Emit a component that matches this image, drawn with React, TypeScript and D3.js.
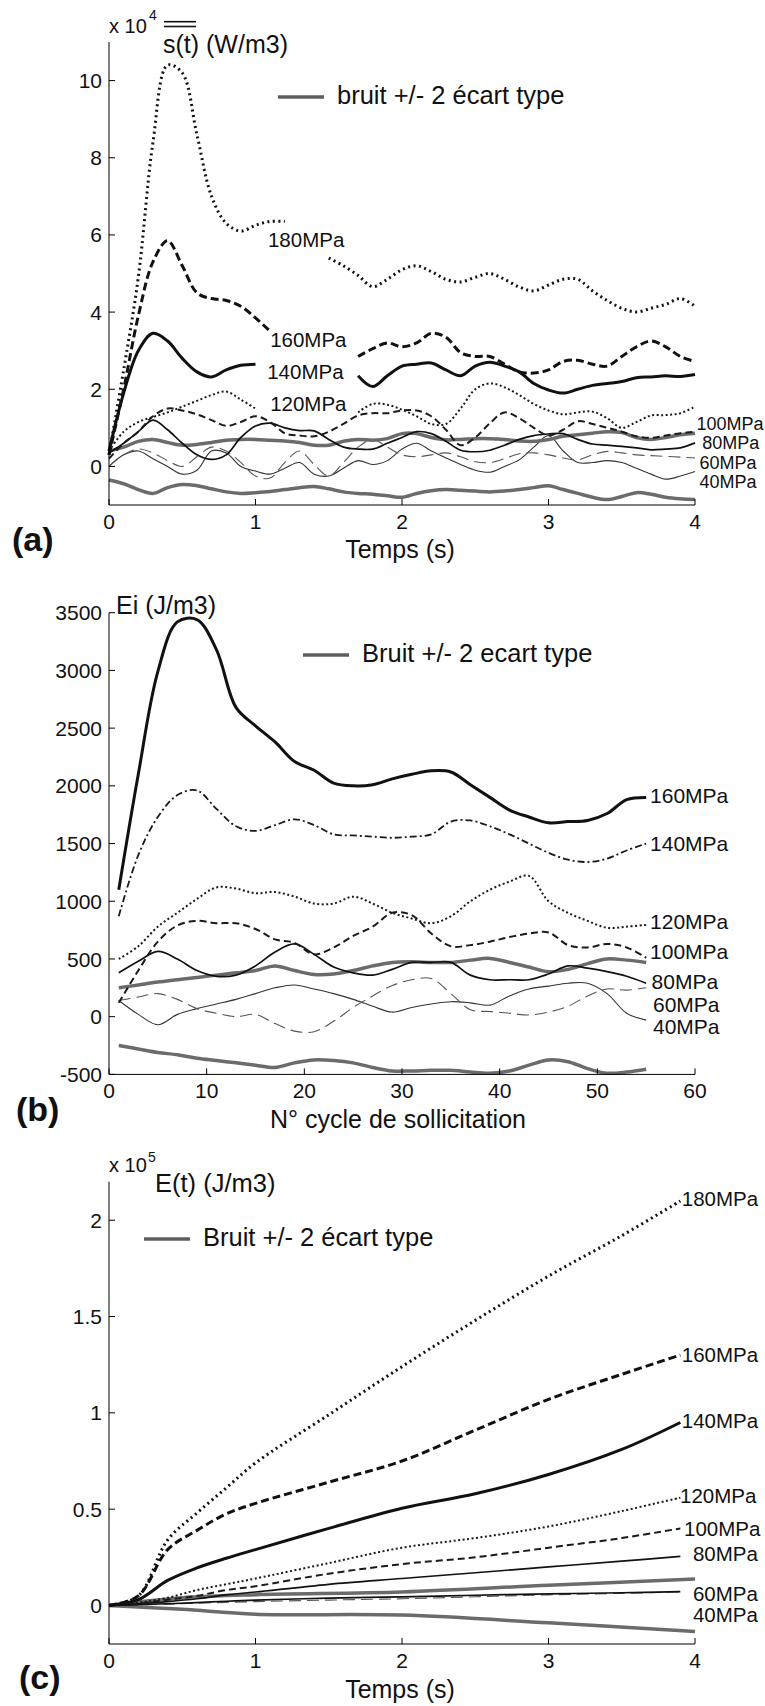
import React from 'react';
import * as d3 from 'd3';

const FONT = "'Liberation Sans', Arial, Helvetica, sans-serif";
const X0 = 109;
const X1 = 695;

// ---- (a) s(t), x 1e4 W/m3 ----
const tA = [0, 0.1, 0.2, 0.3, 0.4, 0.5, 0.6, 0.7, 0.8, 0.9, 1, 1.1, 1.2, 1.3, 1.4, 1.5, 1.6, 1.7, 1.8, 1.9, 2,
  2.1, 2.2, 2.3, 2.4, 2.5, 2.6, 2.7, 2.8, 2.9, 3, 3.1, 3.2, 3.3, 3.4, 3.5, 3.6, 3.7, 3.8, 3.9, 4];
const a180 = [0.3, 2.5, 4.9, 8.4, 10.4, 10.2, 8.6, 7.0, 6.3, 6.1, 6.25, 6.35, 6.35, NaN, NaN, 5.4, 5.2, 4.95, 4.66, 4.85,
  5.1, 5.2, 5.05, 4.85, 4.78, 4.9, 5.0, 4.85, 4.65, 4.55, 4.7, 4.85, 4.85, 4.55, 4.3, 4.1, 4.0, 4.1, 4.2, 4.35, 4.15];
const a160 = [0.3, 2.0, 3.9, 5.3, 5.85, 5.2, 4.5, 4.35, 4.3, 4.15, 3.85, 3.5, NaN, NaN, NaN, NaN, NaN, 2.85, 3.05, 3.2,
  3.1, 3.2, 3.45, 3.35, 2.95, 2.85, 2.85, 2.65, 2.45, 2.42, 2.5, 2.72, 2.75, 2.65, 2.6, 2.85, 3.1, 3.25, 3.1, 2.85, 2.72];
const a140 = [0.4, 1.9, 3.0, 3.45, 3.25, 2.8, 2.45, 2.32, 2.5, 2.62, 2.65, NaN, NaN, NaN, NaN, NaN, NaN, 2.35, 2.07, 2.35,
  2.6, 2.65, 2.68, 2.5, 2.35, 2.6, 2.7, 2.6, 2.45, 2.15, 1.98, 1.9, 2.0, 2.1, 2.15, 2.2, 2.3, 2.32, 2.35, 2.33, 2.38];
const a120 = [0.4, 0.9, 1.15, 1.28, 1.4, 1.55, 1.7, 1.85, 1.94, 1.73, 1.5, NaN, NaN, NaN, NaN, NaN, NaN, 1.4, 1.62, 1.6,
  1.47, 1.3, 1.1, 1.1, 1.5, 2.0, 2.15, 2.05, 1.85, 1.62, 1.45, 1.35, 1.4, 1.42, 1.25, 1.0, 1.15, 1.32, 1.33, 1.38, 1.55];
const a100 = [0.2, 0.6, 0.9, 1.3, 1.5, 1.45, 1.35, 1.2, 1.05, 1.15, 1.3, 1.15, 0.86, 0.8, 0.78, 0.9, 1.1, 1.32, 1.38, 1.38,
  1.45, 1.45, 1.3, 0.95, 0.55, 0.75, 1.12, 1.4, 1.25, 1.0, 0.8, 0.95, 1.17, 1.1, 1.0, 0.9, 0.78, 0.74, 0.8, 0.86, 0.9];
const a80 = [0.35, 0.6, 0.9, 1.2, 0.95, 0.6, 0.3, 0.18, 0.3, 0.75, 1.05, 1.12, 1.0, 0.93, 0.92, 0.7, 0.5, 0.45, 0.45, 0.6,
  0.75, 0.9, 0.85, 0.65, 0.42, 0.38, 0.42, 0.55, 0.7, 0.8, 0.84, 0.85, 0.7, 0.58, 0.55, 0.52, 0.48, 0.43, 0.45, 0.48, 0.61];
const a60 = [0.0, 0.3, 0.45, 0.35, 0.15, 0.0, 0.25, 0.5, 0.4, 0.1, -0.25, -0.3, 0.1, 0.4, 0.05, -0.25, 0.1, 0.5, 0.7, 0.5,
  0.3, 0.25, 0.3, 0.35, 0.25, 0.12, 0.1, 0.2, 0.33, 0.35, 0.3, 0.22, 0.17, 0.3, 0.39, 0.35, 0.3, 0.28, 0.26, 0.24, 0.22];
const a40 = [0.0, 0.3, 0.4, 0.2, 0.0, -0.2, -0.1, 0.4, 0.35, 0.0, -0.12, -0.2, -0.05, 0.1, -0.2, -0.25, -0.05, 0.15, 0.05, 0.15,
  0.45, 0.6, 0.4, 0.22, 0.05, -0.1, -0.15, 0.0, 0.17, 0.5, 0.8, 0.4, 0.1, 0.1, 0.15, 0.1, -0.05, -0.2, -0.33, -0.25, -0.13];
const aNoiseHi = [0.4, 0.5, 0.65, 0.7, 0.62, 0.55, 0.57, 0.62, 0.68, 0.7, 0.7, 0.68, 0.66, 0.62, 0.55, 0.55, 0.65, 0.7, 0.68, 0.72,
  0.85, 0.85, 0.75, 0.69, 0.7, 0.72, 0.72, 0.7, 0.66, 0.65, 0.7, 0.78, 0.82, 0.86, 0.9, 0.88, 0.75, 0.7, 0.75, 0.82, 0.86];
const aNoiseLo = [-0.35, -0.45, -0.6, -0.7, -0.55, -0.47, -0.5, -0.58, -0.66, -0.7, -0.68, -0.65, -0.6, -0.55, -0.52, -0.58, -0.66, -0.7, -0.72, -0.76,
  -0.8, -0.7, -0.63, -0.6, -0.62, -0.64, -0.66, -0.64, -0.6, -0.55, -0.5, -0.6, -0.7, -0.8, -0.86, -0.78, -0.68, -0.72, -0.8, -0.84, -0.86];

// ---- (b) Ei per cycle, J/m3 ----
const cB = [1, 3, 5, 7, 9, 11, 13, 15, 17, 19, 21, 23, 25, 27, 29, 31, 33, 35, 37, 39, 41, 43, 45, 47, 49, 51, 53, 55];
const b160 = [1100, 2100, 2990, 3420, 3440, 3180, 2680, 2520, 2380, 2210, 2135, 2024, 2000, 2010, 2060, 2100, 2130, 2120, 2010, 1900, 1790, 1730, 1680, 1690, 1700, 1760, 1880, 1900];
const b140 = [870, 1400, 1730, 1920, 1960, 1800, 1650, 1610, 1660, 1710, 1660, 1580, 1570, 1560, 1550, 1560, 1580, 1690, 1700, 1650, 1580, 1500, 1420, 1360, 1340, 1370, 1440, 1500];
const b120 = [500, 610, 780, 900, 1020, 1120, 1110, 1070, 1080, 1040, 980, 980, 1040, 980, 900, 850, 810, 870, 1000, 1100, 1170, 1220, 1000, 900, 830, 770, 780, 795];
const b100 = [120, 400, 650, 790, 830, 810, 810, 760, 670, 640, 540, 600, 700, 780, 900, 880, 720, 610, 620, 650, 690, 720, 730, 620, 600, 630, 600, 510];
const b80 = [380, 480, 565, 500, 400, 350, 360, 440, 560, 630, 540, 430, 380, 360, 410, 470, 470, 470, 360, 320, 320, 320, 370, 440, 420, 390, 350, 290];
const b60 = [140, 170, 200, 150, 70, 30, 0, 20, -60, -125, -130, -40, 80, 180, 270, 320, 330, 200, 60, 45, 30, 15, 40, 90, 180, 240, 230, 250];
const b40 = [140, 20, -70, 20, 70, 110, 150, 200, 250, 275, 240, 200, 150, 90, 40, 80, 110, 130, 120, 100, 180, 240, 265, 290, 290, 200, 30, -30];
const bNoiseHi = [250, 275, 300, 320, 340, 360, 380, 400, 440, 400, 365, 370, 400, 440, 470, 475, 470, 470, 490, 505, 470, 430, 390, 410, 460, 500, 490, 470];
const bNoiseLo = [-250, -280, -310, -330, -360, -380, -400, -420, -440, -400, -375, -380, -400, -440, -470, -470, -465, -465, -480, -490, -470, -420, -375, -390, -450, -490, -480, -455];

// ---- (c) E(t), x 1e5 J/m3 ----
const tC = [0, 0.2, 0.4, 0.6, 0.8, 1, 1.5, 2, 2.5, 3, 3.5, 3.9];
const c180 = [0, 0.05, 0.34, 0.48, 0.61, 0.74, 0.99, 1.24, 1.48, 1.71, 1.92, 2.1];
const c160 = [0, 0.05, 0.29, 0.39, 0.475, 0.53, 0.64, 0.75, 0.91, 1.07, 1.2, 1.3];
const c140 = [0, 0.03, 0.13, 0.195, 0.245, 0.29, 0.4, 0.505, 0.58, 0.68, 0.81, 0.95];
const c120 = [0, 0.015, 0.04, 0.08, 0.11, 0.14, 0.22, 0.3, 0.35, 0.41, 0.49, 0.56];
const c100 = [0, 0.01, 0.03, 0.05, 0.08, 0.1, 0.165, 0.215, 0.25, 0.3, 0.35, 0.4];
const c80 = [0, 0.008, 0.02, 0.035, 0.055, 0.07, 0.11, 0.14, 0.17, 0.2, 0.23, 0.255];
const c60 = [0, 0.003, 0.007, 0.012, 0.016, 0.02, 0.028, 0.035, 0.045, 0.055, 0.063, 0.07];
const c40 = [0, 0.004, 0.009, 0.015, 0.022, 0.028, 0.038, 0.045, 0.053, 0.06, 0.066, 0.072];
const tCN = [0, 0.5, 1, 2, 3, 4];
const cNoiseHi = [0, 0.04, 0.056, 0.07, 0.105, 0.138];
const cNoiseLo = [0, -0.02, -0.045, -0.05, -0.09, -0.135];

const ticksT = [0, 1, 2, 3, 4];
const ticksA = [0, 2, 4, 6, 8, 10];
const ticksCycle = [0, 10, 20, 30, 40, 50, 60];
const ticksB = [-500, 0, 500, 1000, 1500, 2000, 2500, 3000, 3500];
const ticksC = [0, 0.5, 1, 1.5, 2];

type Style = { color: string; width: number; dash?: string };
const dotHeavy: Style = { color: '#111', width: 3, dash: '2 3.5' };
const dashHeavy: Style = { color: '#111', width: 3, dash: '8 4' };
const solidHeavy: Style = { color: '#111', width: 3 };
const dotThin: Style = { color: '#1a1a1a', width: 2, dash: '2 2.5' };
const dashThin: Style = { color: '#1a1a1a', width: 2, dash: '7 4' };
const dashDot: Style = { color: '#1a1a1a', width: 1.8, dash: '7 3 2 3' };
const solidThin: Style = { color: '#111', width: 1.7 };
const noise: Style = { color: '#6b6b6b', width: 3.5 };
const dashGray: Style = { color: '#555', width: 1.1, dash: '12 6' };
const solidGray: Style = { color: '#333', width: 1.1 };

type Series = { xs: number[]; ys: number[]; s: Style };
type Label = { text: string; x: number; y: number; size: number };

interface ChartProps {
  top: number;
  bottom: number;
  xDomain: [number, number];
  yDomain: [number, number];
  xTicks: number[];
  yTicks: number[];
  series: Series[];
  labels: Label[];
}

const Chart = ({ top, bottom, xDomain, yDomain, xTicks, yTicks, series, labels }: ChartProps) => {
  const x = d3.scaleLinear().domain(xDomain).range([X0, X1]);
  const y = d3.scaleLinear().domain(yDomain).range([bottom, top]);
  const line = d3.line<[number, number]>()
    .defined(d => !Number.isNaN(d[1]))
    .x(d => x(d[0]))
    .y(d => y(d[1]))
    .curve(d3.curveCatmullRom.alpha(0.5));
  return (
    <g>
      {series.map((sr, i) => (
        <path key={i} d={line(sr.xs.map((t, j) => [t, sr.ys[j]] as [number, number])) || ''}
          fill="none" stroke={sr.s.color} strokeWidth={sr.s.width} strokeDasharray={sr.s.dash}
          strokeLinejoin="round" />
      ))}
      <line x1={X0} x2={X0} y1={top} y2={bottom} stroke="#000" />
      <line x1={X0} x2={X1} y1={bottom} y2={bottom} stroke="#000" />
      {xTicks.map(t => (
        <g key={'x' + t}>
          <line x1={x(t)} x2={x(t)} y1={bottom} y2={bottom - 6} stroke="#000" />
          <text x={x(t)} y={bottom + 24} textAnchor="middle" fontSize={21} fill="#111">{t}</text>
        </g>
      ))}
      {yTicks.map(v => (
        <g key={'y' + v}>
          <line x1={X0} x2={X0 + 6} y1={y(v)} y2={y(v)} stroke="#000" />
          <text x={X0 - 7} y={y(v)} dy="0.36em" textAnchor="end" fontSize={21} fill="#111">{v}</text>
        </g>
      ))}
      {labels.map(l => (
        <text key={l.text} x={x(l.x)} y={y(l.y)} dy="0.36em" fontSize={l.size} fill="#111">{l.text}</text>
      ))}
    </g>
  );
};

const Legend = ({ x, y, text }: { x: number; y: number; text: string }) => (
  <g>
    <line x1={x} x2={x + 46} y1={y} y2={y} stroke="#5e5e5e" strokeWidth={3.5} />
    <text x={x + 59} y={y + 7} fontSize={25.5} fill="#111">{text}</text>
  </g>
);

export default function App() {
  return (
    <svg width={765} height={1706} style={{ position: 'absolute', left: 0, top: 0, background: '#fff' }}
      fontFamily={FONT}>
      {/* (a) */}
      <Chart top={42} bottom={505} xDomain={[0, 4]} yDomain={[-1, 11]} xTicks={ticksT} yTicks={ticksA}
        series={[
          { xs: tA, ys: aNoiseLo, s: noise },
          { xs: tA, ys: a40, s: solidGray },
          { xs: tA, ys: a60, s: dashGray },
          { xs: tA, ys: aNoiseHi, s: noise },
          { xs: tA, ys: a80, s: solidThin },
          { xs: tA, ys: a100, s: dashThin },
          { xs: tA, ys: a120, s: dotThin },
          { xs: tA, ys: a140, s: solidHeavy },
          { xs: tA, ys: a160, s: dashHeavy },
          { xs: tA, ys: a180, s: dotHeavy },
        ]}
        labels={[
          { text: '180MPa', x: 1.085, y: 5.87, size: 20.5 },
          { text: '160MPa', x: 1.1, y: 3.28, size: 20.5 },
          { text: '140MPa', x: 1.08, y: 2.46, size: 20.5 },
          { text: '120MPa', x: 1.1, y: 1.62, size: 20.5 },
          { text: '100MPa', x: 4.01, y: 1.12, size: 18 },
          { text: '80MPa', x: 4.05, y: 0.62, size: 18 },
          { text: '60MPa', x: 4.03, y: 0.09, size: 18 },
          { text: '40MPa', x: 4.03, y: -0.39, size: 18 },
        ]} />
      <text x={109} y={33} fontSize={20} fill="#111">x 10</text>
      <text x={149} y={20} fontSize={14} fill="#111">4</text>
      <line x1={164} x2={196} y1={21.7} y2={21.7} stroke="#111" strokeWidth={1.6} />
      <line x1={164} x2={196} y1={26.5} y2={26.5} stroke="#111" strokeWidth={1.6} />
      <text x={163} y={53} fontSize={25} fill="#111">s(t) (W/m3)</text>
      <Legend x={278} y={97} text="bruit +/- 2 écart type" />
      <text x={400} y={558} textAnchor="middle" fontSize={25} fill="#111">Temps (s)</text>
      <text x={12} y={551} fontSize={34} fontWeight="bold" fill="#111">(a)</text>

      {/* (b) */}
      <Chart top={612.7} bottom={1074.4} xDomain={[0, 60]} yDomain={[-500, 3500]} xTicks={ticksCycle} yTicks={ticksB}
        series={[
          { xs: cB, ys: bNoiseLo, s: noise },
          { xs: cB, ys: b40, s: solidGray },
          { xs: cB, ys: b60, s: dashGray },
          { xs: cB, ys: bNoiseHi, s: noise },
          { xs: cB, ys: b80, s: solidThin },
          { xs: cB, ys: b100, s: dashThin },
          { xs: cB, ys: b120, s: dotThin },
          { xs: cB, ys: b140, s: dashDot },
          { xs: cB, ys: b160, s: solidHeavy },
        ]}
        labels={[
          { text: '160MPa', x: 55.4, y: 1921, size: 21 },
          { text: '140MPa', x: 55.4, y: 1503, size: 21 },
          { text: '120MPa', x: 55.4, y: 823, size: 21 },
          { text: '100MPa', x: 55.4, y: 563, size: 21 },
          { text: '80MPa', x: 55.55, y: 309, size: 21 },
          { text: '60MPa', x: 55.7, y: 110, size: 21 },
          { text: '40MPa', x: 55.7, y: -87, size: 21 },
        ]} />
      <text x={116} y={614} fontSize={25} fill="#111">Ei (J/m3)</text>
      <Legend x={303} y={655} text="Bruit +/- 2 ecart type" />
      <text x={398} y={1128} textAnchor="middle" fontSize={25} fill="#111">N° cycle de sollicitation</text>
      <text x={16} y={1121} fontSize={34} fontWeight="bold" fill="#111">(b)</text>

      {/* (c) */}
      <Chart top={1181.7} bottom={1644} xDomain={[0, 4]} yDomain={[-0.2, 2.2]} xTicks={ticksT} yTicks={ticksC}
        series={[
          { xs: tCN, ys: cNoiseLo, s: noise },
          { xs: tCN, ys: cNoiseHi, s: noise },
          { xs: tC, ys: c60, s: dashGray },
          { xs: tC, ys: c40, s: solidThin },
          { xs: tC, ys: c80, s: solidThin },
          { xs: tC, ys: c100, s: dashThin },
          { xs: tC, ys: c120, s: dotThin },
          { xs: tC, ys: c140, s: solidHeavy },
          { xs: tC, ys: c160, s: dashHeavy },
          { xs: tC, ys: c180, s: dotHeavy },
        ]}
        labels={[
          { text: '180MPa', x: 3.91, y: 2.112, size: 20.5 },
          { text: '160MPa', x: 3.91, y: 1.303, size: 20.5 },
          { text: '140MPa', x: 3.91, y: 0.961, size: 20.5 },
          { text: '120MPa', x: 3.898, y: 0.571, size: 20.5 },
          { text: '100MPa', x: 3.925, y: 0.401, size: 20.5 },
          { text: '80MPa', x: 3.986, y: 0.271, size: 20.5 },
          { text: '60MPa', x: 3.986, y: 0.064, size: 20.5 },
          { text: '40MPa', x: 3.986, y: -0.048, size: 20.5 },
        ]} />
      <text x={109} y={1172} fontSize={20} fill="#111">x 10</text>
      <text x={148} y={1162} fontSize={14} fill="#111">5</text>
      <text x={155} y={1192} fontSize={25.5} fill="#111">E(t) (J/m3)</text>
      <Legend x={144} y={1239} text="Bruit +/- 2 écart type" />
      <text x={400} y={1698} textAnchor="middle" fontSize={25} fill="#111">Temps (s)</text>
      <text x={19} y={1689} fontSize={34} fontWeight="bold" fill="#111">(c)</text>
    </svg>
  );
}
